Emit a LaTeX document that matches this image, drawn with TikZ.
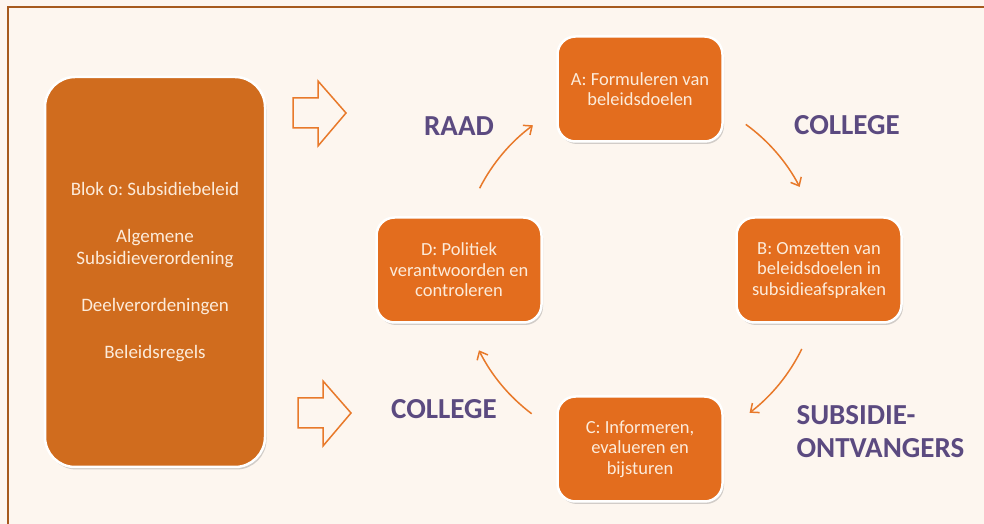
\documentclass[tikz,border=0pt]{standalone}
\usepackage{fontspec}
\setmainfont{Carlito}[Numbers=OldStyle]
\frenchspacing
\usetikzlibrary{arrows.meta,shadows}

\definecolor{achtergrond}{HTML}{FDF6EF}
\definecolor{kader}{HTML}{A65A1E}
\definecolor{blokoranje}{HTML}{D06C1E}
\definecolor{staporanje}{HTML}{E36D1E}
\definecolor{tekstcreme}{HTML}{FCEBDA}
\definecolor{paars}{HTML}{5B4A80}
\definecolor{pijloranje}{HTML}{E8792A}

\tikzset{
  stap/.style={draw=white, line width=2.5pt, fill=staporanje, rounded corners=18pt,
    minimum width=165pt, minimum height=105pt, align=center, text=tekstcreme,
    font=\fontsize{18.5}{20.5}\selectfont,
    drop shadow={shadow xshift=1.5pt, shadow yshift=-2.5pt, opacity=0.35}},
  beleid/.style={stap, fill=blokoranje, rounded corners=30pt,
    minimum width=220pt, minimum height=390pt, font=\fontsize{19}{22.5}\selectfont},
  rol/.style={text=paars, font=\fontsize{29}{33}\selectfont\bfseries},
  cyclus/.style={draw=pijloranje, line width=1.5pt, -{Straight Barb[length=7pt,width=12pt]}},
  blokpijl/.style={draw=pijloranje, line width=1.5pt, line join=miter}
}

\begin{document}
\begin{tikzpicture}[x=1pt, y=1pt]
% achtergrond en kader
\fill[achtergrond] (0,0) rectangle (984,524);
\useasboundingbox (0,0) rectangle (984,524);
\draw[kader, line width=2.5pt] (8,0) -- (8,517) -- (984,517);

% beleidskader links
\node[beleid] (kaders) at (155,252) {Blok 0: Subsidiebeleid\\[24.5pt] Algemene\\ Subsidieverordening\\[24.5pt] Deelverordeningen\\[24.5pt] Beleidsregels};

% holle pijlen
\foreach \x/\y in {293/411, 298/111}
  \draw[blokpijl, shift={(\x,\y)}] (0,15) -- (25,15) -- (25,32) -- (53,0) -- (25,-33) -- (25,-15) -- (0,-15) -- cycle;

% de beleidscyclus
\coordinate (hub) at (640,254);
\path (hub) ++(90:181) node[stap] (A) {A: Formuleren van\\ beleidsdoelen};
\path (hub) ++(0:179) node[stap] (B) {B: Omzetten van\\ beleidsdoelen in\\ subsidieafspraken};
\path (hub) ++(-90:179) node[stap] (C) {C: Informeren,\\ evalueren en\\ bijsturen};
\path (hub) ++(180:181) node[stap] (D) {D: Politiek\\ verantwoorden en\\ controleren};

\foreach \a in {153, 54, -26, -127}
  \draw[cyclus] ([shift={(\a:180)}]hub) arc[start angle=\a, delta angle=-26.5, radius=180];

% wie is aan zet
\node[rol] (raad) at (459,398) {RAAD};
\node[rol] (college1) at (847,399) {COLLEGE};
\node[rol] (college2) at (444,115) {COLLEGE};
\node[rol, anchor=west, align=left] (ontvangers) at (793,92) {SUBSIDIE-\\ONTVANGERS};
\end{tikzpicture}
\end{document}
